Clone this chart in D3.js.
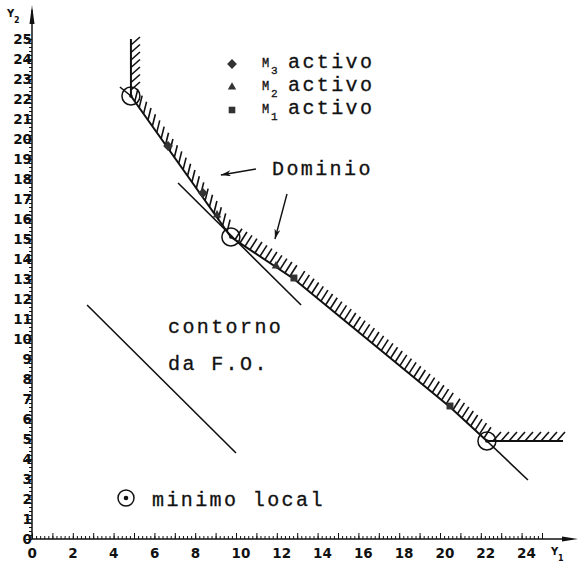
<!DOCTYPE html>
<html>
<head>
<meta charset="utf-8">
<script src="https://cdn.jsdelivr.net/npm/d3@7"></script>
<style>
  * { margin: 0; padding: 0; }
  body { background: #fff; }
  svg { display: block; }
  .tick text { font-family: "DejaVu Sans", sans-serif; font-size: 13.5px; font-weight: bold; fill: #111; }
  .tick line { stroke: #111; stroke-width: 1; }
  .mono { font-family: "Liberation Mono", monospace; fill: #111; stroke: #111; stroke-width: 0.3; }
  .axlab { font-family: "DejaVu Sans", sans-serif; fill: #111; font-weight: bold; }
</style>
</head>
<body>
<svg id="chart" width="579" height="565"></svg>
<script>
// values, in (Y1, Y2) units
var domainBoundary = [[4.85, 25.0], [4.85, 22.15], [9.75, 15.1], [12.84, 13.0], [20.49, 6.6], [22.3, 4.9], [26.03, 4.9]];
var localMinima = [[4.85, 22.15], [9.75, 15.1], [22.3, 4.9]];
var m3Active = [[6.67, 19.65], [8.38, 17.3]];
var m2Active = [[9.07, 16.2], [11.96, 13.65]];
var m1Active = [[12.84, 13.05], [20.49, 6.65]];
var contourLines = [
  [[4.31, 22.6], [4.85, 22.15]],
  [[7.16, 17.8], [13.19, 11.7]],
  [[22.3, 4.9], [24.31, 2.95]],
  [[2.70, 11.7], [10.0, 4.3]]
];
var pointerArrows = [
  [[10.98, 18.5], [9.26, 18.2]],
  [[12.5, 17.25], [11.91, 15.0]]
];
var xTickLabels = [0, 2, 4, 6, 8, 10, 12, 14, 16, 18, 20, 22, 24];
var yTickLabels = d3.range(0, 26);
var legendLabels = ['3', '2', '1'];

var svg = d3.select('#chart');
var ink = '#111';

var x = d3.scaleLinear().domain([0, 25]).range([32, 542]);
var y = d3.scaleLinear().domain([0, 25]).range([539, 39]);

// minor ticks every 0.2
var minor = d3.range(0, 25.01, 0.2).map(function (v) { return +v.toFixed(1); });

svg.append('g')
  .attr('transform', 'translate(0,' + y(0) + ')')
  .call(d3.axisBottom(x).tickValues(minor).tickSize(-3).tickFormat(''))
  .call(function (g) { g.select('.domain').remove(); });

svg.append('g')
  .attr('transform', 'translate(0,' + y(0) + ')')
  .call(d3.axisBottom(x).tickValues(d3.range(0, 26)).tickSize(-6).tickPadding(9)
    .tickFormat(function (d) { return xTickLabels.indexOf(d) >= 0 ? d : ''; }))
  .call(function (g) {
    g.select('.domain').remove();
    g.selectAll('text').attr('text-anchor', 'start').attr('dx', -5);
  });

svg.append('g')
  .attr('transform', 'translate(' + x(0) + ',0)')
  .call(d3.axisLeft(y).tickValues(minor).tickSize(3).tickFormat(''))
  .call(function (g) { g.select('.domain').remove(); });

svg.append('g')
  .attr('transform', 'translate(' + x(0) + ',0)')
  .call(d3.axisLeft(y).tickValues(yTickLabels).tickSize(6).tickPadding(-6))
  .call(function (g) { g.select('.domain').remove(); });

// axis lines with arrows
svg.append('line').attr('x1', x(0)).attr('x2', 570).attr('y1', y(0)).attr('y2', y(0))
  .attr('stroke', ink).attr('stroke-width', 1.5);
svg.append('path').attr('d', 'M578,' + y(0) + ' L562,' + (y(0) - 2.5) + ' L562,' + (y(0) + 2.5) + 'Z').attr('fill', ink);
svg.append('line').attr('x1', x(0)).attr('x2', x(0)).attr('y1', y(0)).attr('y2', 10)
  .attr('stroke', ink).attr('stroke-width', 1.5);
svg.append('path').attr('d', 'M' + x(0) + ',5 L' + (x(0) - 2.5) + ',24 L' + (x(0) + 2.5) + ',24Z').attr('fill', ink);

// axis names
svg.append('text').attr('class', 'axlab').attr('x', 7).attr('y', 17).style('font-size', '10px').text('Y');
svg.append('text').attr('class', 'axlab').attr('x', 14).attr('y', 23).style('font-size', '8px').text('2');
svg.append('text').attr('class', 'axlab').attr('x', 551).attr('y', 555).style('font-size', '10px').text('Y');
svg.append('text').attr('class', 'axlab').attr('x', 558).attr('y', 561).style('font-size', '8px').text('1');

var line = d3.line().x(function (d) { return x(d[0]); }).y(function (d) { return y(d[1]); });

// contour lines of the objective
svg.selectAll('.contour').data(contourLines).enter().append('path')
  .attr('class', 'contour').attr('d', line)
  .attr('fill', 'none').attr('stroke', ink).attr('stroke-width', 1.6);

// domain boundary + hatching
svg.append('path').attr('d', line(domainBoundary))
  .attr('fill', 'none').attr('stroke', ink).attr('stroke-width', 2);

var hatchVec = [[9, -8], [3, -12], [7, -11], [7, -11], [7, -11], [8, -9]];
var hatchGap = [7.5, 7.6, 6, 6, 6, 8];
var pts = domainBoundary.map(function (d) { return [x(d[0]), y(d[1])]; });
var hatches = [];
for (var i = 0; i < pts.length - 1; i++) {
  var p0 = pts[i], p1 = pts[i + 1];
  var len = Math.hypot(p1[0] - p0[0], p1[1] - p0[1]);
  var n = Math.floor(len / hatchGap[i]);
  var off = (len - (n - 1) * hatchGap[i]) / 2;
  for (var k = 0; k < n; k++) {
    var t = (off + k * hatchGap[i]) / len;
    var bx = p0[0] + t * (p1[0] - p0[0]), by = p0[1] + t * (p1[1] - p0[1]);
    hatches.push([bx, by, bx + hatchVec[i][0], by + hatchVec[i][1]]);
  }
}
svg.append('g').selectAll('line').data(hatches).enter().append('line')
  .attr('x1', function (d) { return d[0]; }).attr('y1', function (d) { return d[1]; })
  .attr('x2', function (d) { return d[2]; }).attr('y2', function (d) { return d[3]; })
  .attr('stroke', ink).attr('stroke-width', 1.6);

// local minima
var mins = svg.selectAll('.min').data(localMinima).enter().append('g')
  .attr('transform', function (d) { return 'translate(' + x(d[0]) + ',' + y(d[1]) + ')'; });
mins.append('circle').attr('r', 9).attr('fill', 'none').attr('stroke', ink).attr('stroke-width', 1.5);
mins.append('circle').attr('r', 1.8).attr('fill', ink);

// active-constraint markers
var mark = '#333';
function drawMarks(data, sym, size, rot) {
  svg.append('g').selectAll('path').data(data).enter().append('path')
    .attr('d', d3.symbol().type(sym).size(size))
    .attr('transform', function (d) { return 'translate(' + x(d[0]) + ',' + y(d[1]) + ') rotate(' + rot + ')'; })
    .attr('fill', mark);
}
drawMarks(m3Active, d3.symbolSquare, 48, 45);
drawMarks(m2Active, d3.symbolTriangle, 32, 0);
drawMarks(m1Active, d3.symbolSquare, 48, 0);

// pointer arrows
svg.append('defs').append('marker').attr('id', 'head')
  .attr('viewBox', '0 0 10 6').attr('refX', 10).attr('refY', 3)
  .attr('markerWidth', 11).attr('markerHeight', 6).attr('markerUnits', 'userSpaceOnUse')
  .attr('orient', 'auto')
  .append('path').attr('d', 'M0,0 L10,3 L0,6 L3,3Z').attr('fill', ink);
svg.selectAll('.ptr').data(pointerArrows).enter().append('path')
  .attr('d', line).attr('stroke', ink).attr('stroke-width', 1.4).attr('fill', 'none')
  .attr('marker-end', 'url(#head)');

// legend
var legendSyms = [[d3.symbolSquare, 48, 45], [d3.symbolTriangle, 30, 0], [d3.symbolSquare, 44, 0]];
var legendRows = [68, 91, 114];
legendLabels.forEach(function (s, i) {
  var yy = legendRows[i];
  svg.append('path').attr('d', d3.symbol().type(legendSyms[i][0]).size(legendSyms[i][1]))
    .attr('transform', 'translate(232,' + (yy - 4) + ') rotate(' + legendSyms[i][2] + ')')
    .attr('fill', mark);
  svg.append('text').attr('class', 'mono').attr('x', 262).attr('y', yy - 1).style('font-size', '12px').text('M');
  svg.append('text').attr('class', 'mono').attr('x', 271).attr('y', yy + 6).style('font-size', '11px').text(s);
  svg.append('text').attr('class', 'mono').attr('x', 288).attr('y', yy)
    .style('font-size', '20px').style('letter-spacing', '2.4px').text('activo');
});

function label(txt, px, py) {
  svg.append('text').attr('class', 'mono').attr('x', px).attr('y', py)
    .style('font-size', '20px').style('letter-spacing', '2.4px').text(txt);
}
label('Dominio', 272, 175);
label('contorno', 168, 333);
label('da F.O.', 168, 370);
label('minimo local', 152, 506);
svg.append('circle').attr('cx', 126).attr('cy', 498).attr('r', 8).attr('fill', 'none').attr('stroke', ink).attr('stroke-width', 1.5);
svg.append('circle').attr('cx', 126).attr('cy', 498).attr('r', 2.3).attr('fill', ink);
</script>
</body>
</html>
